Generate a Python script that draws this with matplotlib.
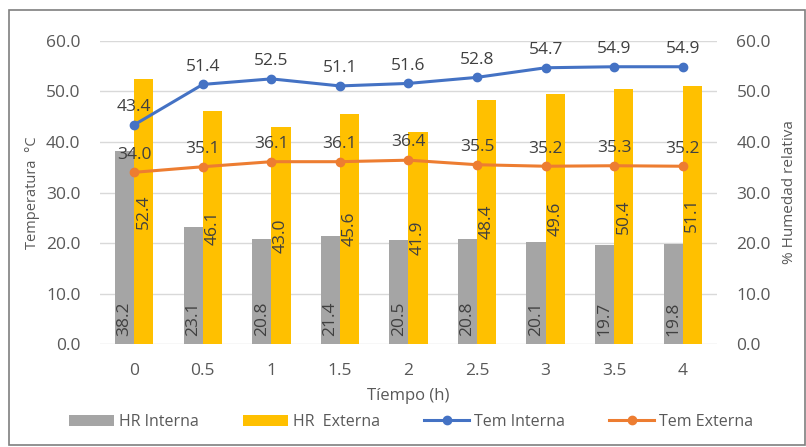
import matplotlib.pyplot as plt
import numpy as np
from matplotlib.patches import Rectangle

# Data
tiempo = ['0', '0.5', '1', '1.5', '2', '2.5', '3', '3.5', '4']
hr_interna = [38.2, 23.1, 20.8, 21.4, 20.5, 20.8, 20.1, 19.7, 19.8]
hr_externa = [52.4, 46.1, 43.0, 45.6, 41.9, 48.4, 49.6, 50.4, 51.1]
tem_interna = [43.4, 51.4, 52.5, 51.1, 51.6, 52.8, 54.7, 54.9, 54.9]
tem_externa = [34.0, 35.1, 36.1, 36.1, 36.4, 35.5, 35.2, 35.3, 35.2]

plt.rcParams['font.family'] = ['Open Sans', 'DejaVu Sans']
txt = '#595959'
lab = '#404040'

fig = plt.figure(figsize=(8.06, 4.47), dpi=100)
fig.patches.append(Rectangle((9 / 806, 2 / 447), 796 / 806, 435 / 447,
                             transform=fig.transFigure, fill=False,
                             edgecolor='#7f7f7f', linewidth=1.2))

ax = fig.add_axes([0.124, 0.2304, 0.7656, 0.6779])
ax2 = ax.twinx()
x = np.arange(len(tiempo))
w = 0.28

# bars (humidity) on the secondary axis, drawn behind the lines
b1 = ax2.bar(x - w / 2, hr_interna, w, color='#A5A5A5', label='HR Interna', zorder=2)
b2 = ax2.bar(x + w / 2, hr_externa, w, color='#FFC000', label='HR  Externa', zorder=2)
for xi, v in zip(x, hr_interna):
    ax2.annotate(f'{v:.1f}', (xi - w / 2, 0), xytext=(0, 6), textcoords='offset points',
                 rotation=90, ha='center', va='bottom', fontsize=12.5, color=lab)
for xi, v in zip(x, hr_externa):
    ax2.text(xi + w / 2, v / 2, f'{v:.1f}', rotation=90, ha='center', va='center',
             fontsize=12.5, color=lab)

l1, = ax.plot(x, tem_interna, color='#4472C4', lw=2.2, marker='o', ms=6, label='Tem Interna')
l2, = ax.plot(x, tem_externa, color='#ED7D31', lw=2.2, marker='o', ms=6, label='Tem Externa')
for xi, v in zip(x, tem_interna):
    ax.annotate(f'{v:.1f}', (xi, v), xytext=(0, 7), textcoords='offset points',
                ha='center', va='bottom', fontsize=12.5, color=lab)
for xi, v in zip(x, tem_externa):
    ax.annotate(f'{v:.1f}', (xi, v), xytext=(0, 7), textcoords='offset points',
                ha='center', va='bottom', fontsize=12.5, color=lab)

ax.set_zorder(ax2.get_zorder() + 1)
ax.patch.set_visible(False)

for a in (ax, ax2):
    a.set_ylim(0, 60)
    a.set_yticks(np.arange(0, 61, 10))
    a.set_yticklabels([f'{t:.1f}' for t in range(0, 61, 10)])
    a.tick_params(axis='y', length=0, labelsize=12.5, labelcolor=txt, pad=14)
    for s in a.spines.values():
        s.set_visible(False)
ax.set_xlim(-0.5, 8.5)
ax.set_xticks(x)
ax.set_xticklabels(tiempo)
ax.tick_params(axis='x', length=0, labelsize=12.5, labelcolor=txt, pad=14)
ax2.grid(axis='y', color='#D9D9D9', lw=1, zorder=0)
ax2.set_axisbelow(True)

ax.set_ylabel('Temperatura  °C', fontsize=10.5, color=txt, labelpad=4)
ax2.set_ylabel('% Humedad relativa', fontsize=11, color=txt, labelpad=8)
ax.set_xlabel('Tíempo (h)', fontsize=12, color=txt, labelpad=6)

fig.legend(handles=[b1, b2, l1, l2], loc='center', ncol=4,
           bbox_to_anchor=(411 / 806, 1 - 422 / 447), frameon=False,
           fontsize=11.5, labelcolor=txt, handlelength=2.8, columnspacing=2.8,
           handletextpad=0.3)

fig.savefig('out.png', dpi=100)
